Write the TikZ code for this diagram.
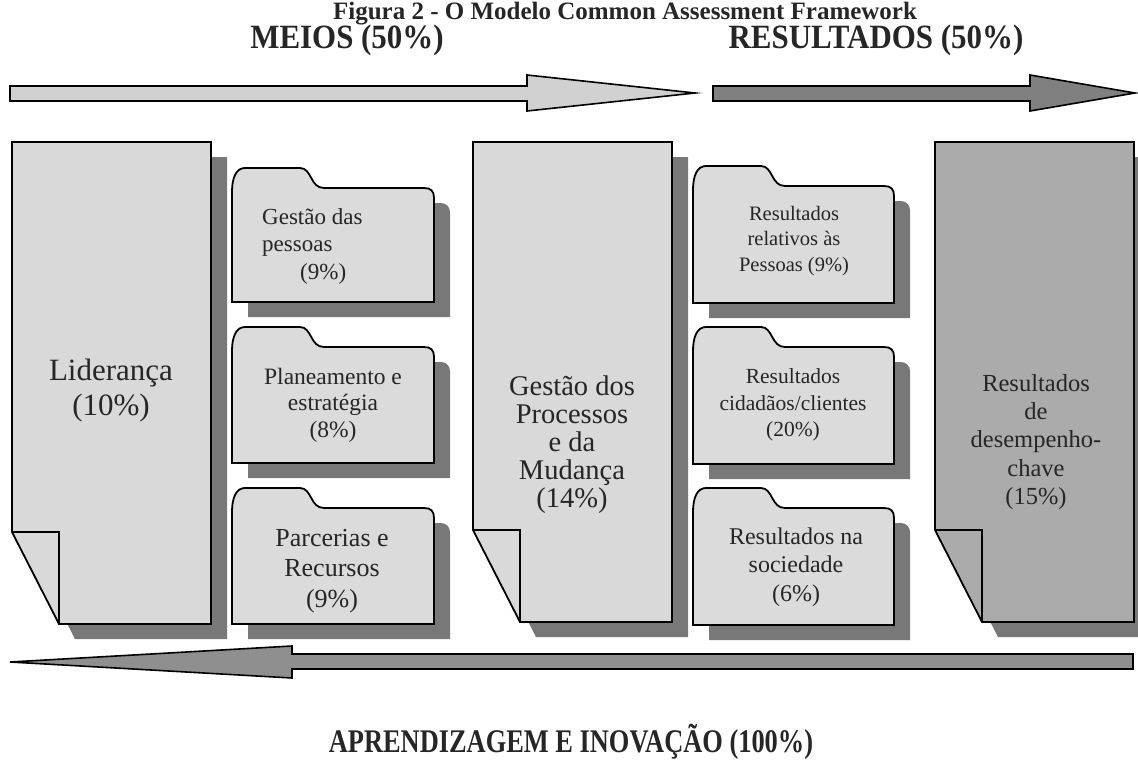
\documentclass[tikz,border=0pt]{standalone}
\usepackage{fontspec}
\setmainfont{Liberation Serif}
\newfontfamily\headfont{Liberation Serif}[FakeStretch=0.91]
\newfontfamily\capfont{Liberation Serif}[FakeStretch=0.80]
\definecolor{pagelight}{gray}{0.85}
\definecolor{pagedark}{gray}{0.67}
\definecolor{folderfill}{gray}{0.86}
\definecolor{shadowgray}{gray}{0.47}
\definecolor{arrowlight}{gray}{0.82}
\definecolor{arrowdark}{gray}{0.50}
\definecolor{arrowback}{gray}{0.56}
\definecolor{ink}{gray}{0.15}

% page with a folded bottom-left corner: {x1}{y1}{x2}{y2}{fill}
\newcommand{\pagebox}[5]{%
  \fill[shadowgray] (#1+16,#2+15) -- (#3+16,#2+15) -- (#3+16,#4+15) -- (#1+63,#4+15) -- (#1+16,#4-77) -- cycle;
  \draw[outline,fill=#5] (#1,#2) -- (#3,#2) -- (#3,#4) -- (#1+47,#4) -- (#1,#4-92) -- cycle;
  \draw[outline] (#1,#4-92) -- (#1+47,#4-92) -- (#1+47,#4);
}
% file folder with a tab at the top left: {x1}{tab top}{x2}{bottom}
\newcommand{\folder}[4]{%
  \fill[shadowgray] (#1+16,#4+15) -- (#1+16,#2+35) [rounded corners=9pt] -- (#3+16,#2+35) [sharp corners] -- (#3+16,#4+15) -- cycle;
  \draw[outline,fill=folderfill] (#1,#4) -- (#1,#2+24)
    .. controls (#1,#2+10) and (#1+4,#2) .. (#1+13,#2)
    -- (#1+68,#2)
    .. controls (#1+80,#2) and (#1+78,#2+20) .. (#1+92,#2+20)
    -- (#3-10,#2+20)
    .. controls (#3-3,#2+20) and (#3,#2+23) .. (#3,#2+30)
    -- (#3,#4) -- cycle;
}

\begin{document}
\begin{tikzpicture}[x=1pt,y=-1pt,
  outline/.style={draw=black, line width=1.8pt, line join=miter},
  blockarrow/.style={draw=black, line width=1.6pt, line join=miter},
  heading/.style={font=\headfont\bfseries\fontsize{34}{38}\selectfont, text=ink, inner sep=0pt},
  bigtxt/.style={align=center, inner sep=0pt, text=ink},
  foldtxt/.style={align=center, inner sep=0pt, text=ink}]
\useasboundingbox (0,0) rectangle (1138,771);
\clip (0,0) rectangle (1138,771);

% headings
\node[inner sep=0pt, text=ink, font=\bfseries\fontsize{25}{29}\selectfont] (title) at (625,13.5) {Figura 2 - O Modelo Common Assessment Framework};
\node[heading] (meios) at (347,40) {MEIOS (50\%)};
\node[heading] (result) at (876,40) {RESULTADOS (50\%)};

% flow arrows at the top
\draw[blockarrow, fill=arrowlight] (10,86) -- (527,86) -- (527,75) -- (695,93) -- (527,111) -- (527,101) -- (10,101) -- cycle;
\draw[blockarrow, fill=arrowdark] (713,86) -- (1030,86) -- (1030,75) -- (1135,93) -- (1030,111) -- (1030,101) -- (713,101) -- cycle;

% the three criteria pages
\pagebox{12}{142}{211}{624}{pagelight}
\pagebox{473}{142}{672}{622}{pagelight}
\pagebox{935}{142}{1134}{622}{pagedark}

% enabler folders
\folder{232}{168}{434}{302}
\folder{232}{327}{434}{463}
\folder{232}{488}{434}{624}
% result folders
\folder{693}{166}{894}{303}
\folder{693}{327}{894}{464}
\folder{693}{488}{894}{625}

% learning and innovation arrow
\draw[blockarrow, fill=arrowback] (1133,654) -- (292,654) -- (292,646) -- (10,662) -- (292,678) -- (292,669) -- (1133,669) -- cycle;

% texts of the pages
\node[bigtxt, font=\fontsize{31}{35}\selectfont] (lid) at (111,391) {Liderança\\(10\%)};
\node[bigtxt, font=\fontsize{28.5}{28}\selectfont] (gest) at (572,445) {Gestão dos\\Processos\\e da\\Mudança\\(14\%)};
\node[bigtxt, font=\fontsize{24.5}{28.3}\selectfont] (desemp) at (1036,442) {Resultados\\de\\desempenho-\\chave\\(15\%)};

% texts of the folders
\node[foldtxt, align=left, anchor=north west, font=\fontsize{23}{27.5}\selectfont] (pess) at (262,208) {Gestão das\\pessoas\\\hspace*{38pt}(9\%)};
\node[foldtxt, font=\fontsize{23.5}{26.5}\selectfont] (plan) at (333,405) {Planeamento e\\estratégia\\(8\%)};
\node[foldtxt, font=\fontsize{26}{30.5}\selectfont] (parc) at (332,571) {Parcerias e\\Recursos\\(9\%)};
\node[foldtxt, font=\fontsize{20.5}{25.5}\selectfont] (rpess) at (794,241) {Resultados\\relativos às\\Pessoas (9\%)};
\node[foldtxt, font=\fontsize{21.5}{26.5}\selectfont] (rcid) at (793,405) {Resultados\\cidadãos/clientes\\(20\%)};
\node[foldtxt, font=\fontsize{24}{28.5}\selectfont] (rsoc) at (796,567) {Resultados na\\sociedade\\(6\%)};

% bottom caption
\node[inner sep=0pt, text=ink, font=\capfont\bfseries\fontsize{33}{37}\selectfont] (aprend) at (571,742) {APRENDIZAGEM E INOVAÇÃO (100\%)};
\end{tikzpicture}
\end{document}
